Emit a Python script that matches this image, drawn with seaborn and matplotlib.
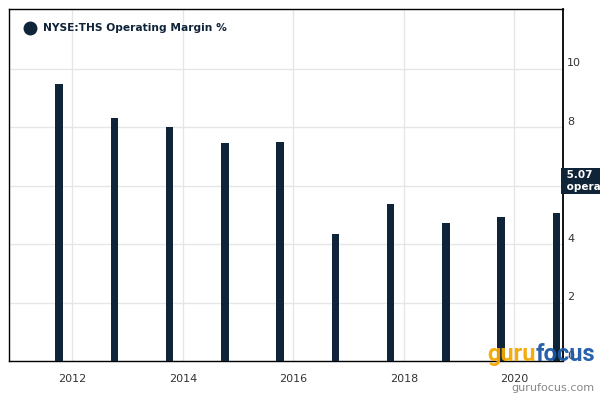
import matplotlib
matplotlib.use("Agg")
import matplotlib.pyplot as plt
import matplotlib.transforms as mtransforms
import matplotlib.lines as mlines
import seaborn as sns
import pandas as pd

# ---- data ----
years = [2011.76, 2012.76, 2013.76, 2014.76, 2015.76, 2016.76, 2017.76, 2018.76, 2019.76, 2020.76]
margin = [9.48, 8.32, 8.01, 7.46, 7.50, 4.35, 5.38, 4.73, 4.93, 5.07]
xtick_years = [2012, 2014, 2016, 2018, 2020]
ytick_vals = [0, 2, 4, 6, 8, 10]
series_name = "NYSE:THS Operating Margin %"
last_label = "5.07"

bar_color = "#0f2339"

sns.set_style("white")
plt.rcParams["font.family"] = ["DejaVu Sans"]

fig = plt.figure(figsize=(6, 4), dpi=100)
ax = fig.add_axes([9/600, 1 - 361.3/400, (563 - 9)/600, (361.3 - 9)/400])

df = pd.DataFrame({"year": years, "margin": margin})
sns.barplot(data=df, x="year", y="margin", native_scale=True, width=0.135,
            color=bar_color, saturation=1, ax=ax, zorder=3, errorbar=None,
            linewidth=0)

ax.set_xlim(2010.854, 2020.88)
ax.set_ylim(0, 12.04)
ax.set_xlabel("")
ax.set_ylabel("")

# grid
ax.set_xticks(xtick_years)
ax.set_yticks(ytick_vals)
ax.grid(True, color="#e6e6e6", linewidth=1, zorder=0)
ax.set_axisbelow(True)

# x ticks
ax.set_xticklabels([str(y) for y in xtick_years])
ax.tick_params(axis="x", direction="out", length=7, width=1, color="#ccd6eb",
               labelsize=8, labelcolor="#333333", pad=2)
# y ticks on right
ax.yaxis.tick_right()
ax.set_yticklabels([str(v) for v in ytick_vals])
ax.tick_params(axis="y", length=0, labelsize=8, labelcolor="#333333", pad=3)
offset = mtransforms.ScaledTranslation(0, 4/72, fig.dpi_scale_trans)
for lab in ax.get_yticklabels():
    lab.set_verticalalignment("center")
    lab.set_transform(lab.get_transform() + offset)

for s in ["left", "top", "right", "bottom"]:
    ax.spines[s].set_visible(True)
    ax.spines[s].set_color("black")
    ax.spines[s].set_linewidth(1)
ax.spines["right"].set_linewidth(1.3)

# legend
fig.lines.append(mlines.Line2D([30/600], [1 - 28/400], marker="o", markersize=9,
                               color=bar_color, transform=fig.transFigure))
fig.text(43/600, 1 - 28/400, series_name, fontsize=7.7, color=bar_color,
         ha="left", va="center", fontweight="bold")

# last value label box
trans = mtransforms.blended_transform_factory(ax.transAxes, ax.transData)
ax.text(1.0, 6.17, " " + last_label + "   \n operating margin", transform=trans,
        ha="left", va="center", fontsize=7.5, fontweight="bold", color="white",
        linespacing=1.25, clip_on=False, zorder=10,
        bbox=dict(boxstyle="square,pad=0.2", facecolor=bar_color, edgecolor="none"))

# watermark
t1 = fig.text(487/600, 1 - 361/400, "guru", fontsize=17, fontweight="bold", color="#f5a800",
              ha="left", va="baseline", alpha=0.95, family=["Roboto", "DejaVu Sans"])
ax.annotate("focus", xy=(1, 0), xycoords=t1, xytext=(0, 0), textcoords="offset points",
            fontsize=17, fontweight="bold", color="#1c5aa6", ha="left", va="bottom",
            alpha=0.95, family=["Roboto", "DejaVu Sans"], annotation_clip=False,
            zorder=11)
fig.text(595/600, 1 - 388/400, "gurufocus.com", fontsize=8, color="#888888",
         ha="right", va="center")

fig.savefig("out.png", dpi=100)
